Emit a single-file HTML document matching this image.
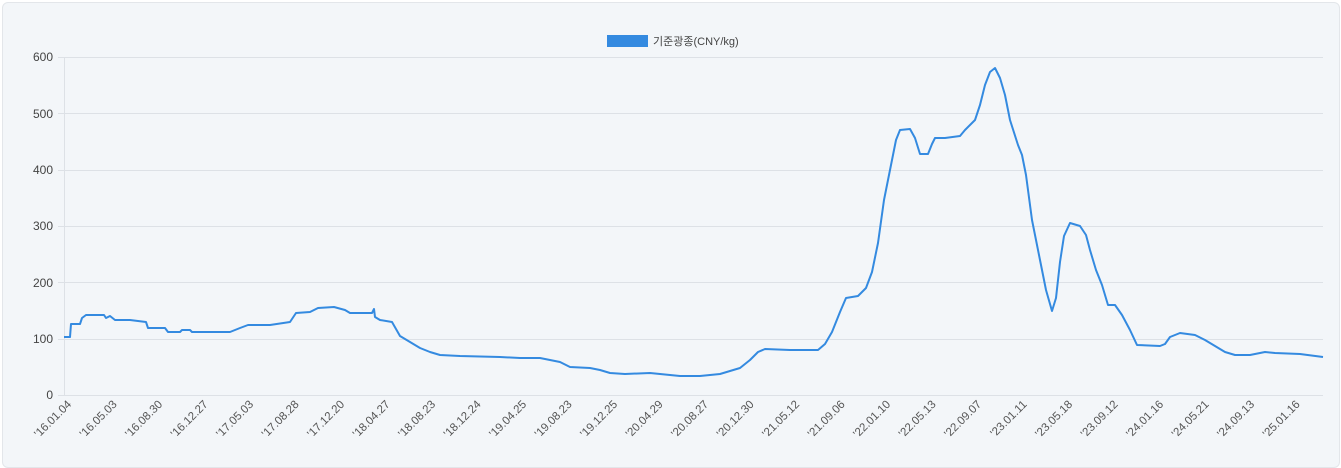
<!DOCTYPE html>
<html><head><meta charset="utf-8"><style>
body{margin:0;background:#fff;}
.c{position:absolute;left:2px;top:2px;width:1336px;height:464px;background:#f3f6f9;border:1px solid #e3e6ea;border-radius:6px;}
svg{position:absolute;left:0;top:0;font-family:"Liberation Sans","Noto Sans CJK KR",sans-serif;}
</style></head><body><div class="c"></div>
<svg width="1341" height="468">
<g stroke="#dde1e6" stroke-width="1">
<line x1="58" x2="1323" y1="57.5" y2="57.5"/><line x1="58" x2="1323" y1="113.5" y2="113.5"/><line x1="58" x2="1323" y1="170.5" y2="170.5"/><line x1="58" x2="1323" y1="226.5" y2="226.5"/><line x1="58" x2="1323" y1="282.5" y2="282.5"/><line x1="58" x2="1323" y1="339.5" y2="339.5"/><line x1="58" x2="1323" y1="395.5" y2="395.5"/>
<line x1="64.5" x2="64.5" y1="57" y2="395"/>
</g>
<g font-size="12" fill="#444" text-anchor="end">
<text x="53" y="61">600</text><text x="53" y="118">500</text><text x="53" y="174">400</text><text x="53" y="230">300</text><text x="53" y="287">200</text><text x="53" y="343">100</text><text x="53" y="399">0</text>
</g>
<rect x="607" y="35" width="41" height="12" fill="#348ae0"/>
<text x="653" y="45" font-size="11" fill="#444">기준광종(CNY/kg)</text>
<g font-size="11.5" fill="#555" text-anchor="end">
<text transform="translate(72,405) rotate(-45)">'16.01.04</text>
<text transform="translate(117.5,405) rotate(-45)">'16.05.03</text>
<text transform="translate(163,405) rotate(-45)">'16.08.30</text>
<text transform="translate(208.5,405) rotate(-45)">'16.12.27</text>
<text transform="translate(254,405) rotate(-45)">'17.05.03</text>
<text transform="translate(299.5,405) rotate(-45)">'17.08.28</text>
<text transform="translate(345,405) rotate(-45)">'17.12.20</text>
<text transform="translate(390.5,405) rotate(-45)">'18.04.27</text>
<text transform="translate(436,405) rotate(-45)">'18.08.23</text>
<text transform="translate(481.5,405) rotate(-45)">'18.12.24</text>
<text transform="translate(527,405) rotate(-45)">'19.04.25</text>
<text transform="translate(572.5,405) rotate(-45)">'19.08.23</text>
<text transform="translate(618,405) rotate(-45)">'19.12.25</text>
<text transform="translate(663.5,405) rotate(-45)">'20.04.29</text>
<text transform="translate(709,405) rotate(-45)">'20.08.27</text>
<text transform="translate(754.5,405) rotate(-45)">'20.12.30</text>
<text transform="translate(800,405) rotate(-45)">'21.05.12</text>
<text transform="translate(845.5,405) rotate(-45)">'21.09.06</text>
<text transform="translate(891,405) rotate(-45)">'22.01.10</text>
<text transform="translate(936.5,405) rotate(-45)">'22.05.13</text>
<text transform="translate(982,405) rotate(-45)">'22.09.07</text>
<text transform="translate(1027.5,405) rotate(-45)">'23.01.11</text>
<text transform="translate(1073,405) rotate(-45)">'23.05.18</text>
<text transform="translate(1118.5,405) rotate(-45)">'23.09.12</text>
<text transform="translate(1164,405) rotate(-45)">'24.01.16</text>
<text transform="translate(1209.5,405) rotate(-45)">'24.05.21</text>
<text transform="translate(1255,405) rotate(-45)">'24.09.13</text>
<text transform="translate(1300.5,405) rotate(-45)">'25.01.16</text>
</g>
<polyline fill="none" stroke="#348ae0" stroke-width="2" stroke-linejoin="round" points="64,337 70,337 71,324 80,324 82,318 86,315 104,315 106,318 110,316 115,320 130,320 146,322 148,328 165,328 168,332 180,332 182,330 190,330 192,332 230,332 240,328 248,325 270,325 290,322 296,313 310,312 318,308 334,307 345,310 350,313 372,313 374,309 375,317 380,320 392,322 400,336 410,342 420,348 430,352 440,355 460,356 500,357 520,358 540,358 560,362 570,367 590,368 600,370 610,373 625,374 650,373 680,376 700,376 720,374 740,368 750,360 758,352 765,349 790,350 818,350 825,344 832,332 840,312 846,298 858,296 866,288 872,272 878,243 884,200 890,170 896,140 900,130 910,129 915,138 920,154 928,154 932,144 935,138 945,138 960,136 965,130 975,120 980,105 985,85 990,72 995,68 1000,78 1005,95 1010,120 1018,145 1022,155 1026,175 1032,220 1040,260 1046,290 1052,311 1056,298 1060,262 1064,236 1070,223 1080,226 1086,235 1090,250 1096,270 1102,285 1108,305 1115,305 1122,315 1130,330 1137,345 1160,346 1165,344 1170,337 1180,333 1195,335 1205,340 1215,346 1225,352 1235,355 1250,355 1265,352 1275,353 1300,354 1323,357"/>
</svg></body></html>
